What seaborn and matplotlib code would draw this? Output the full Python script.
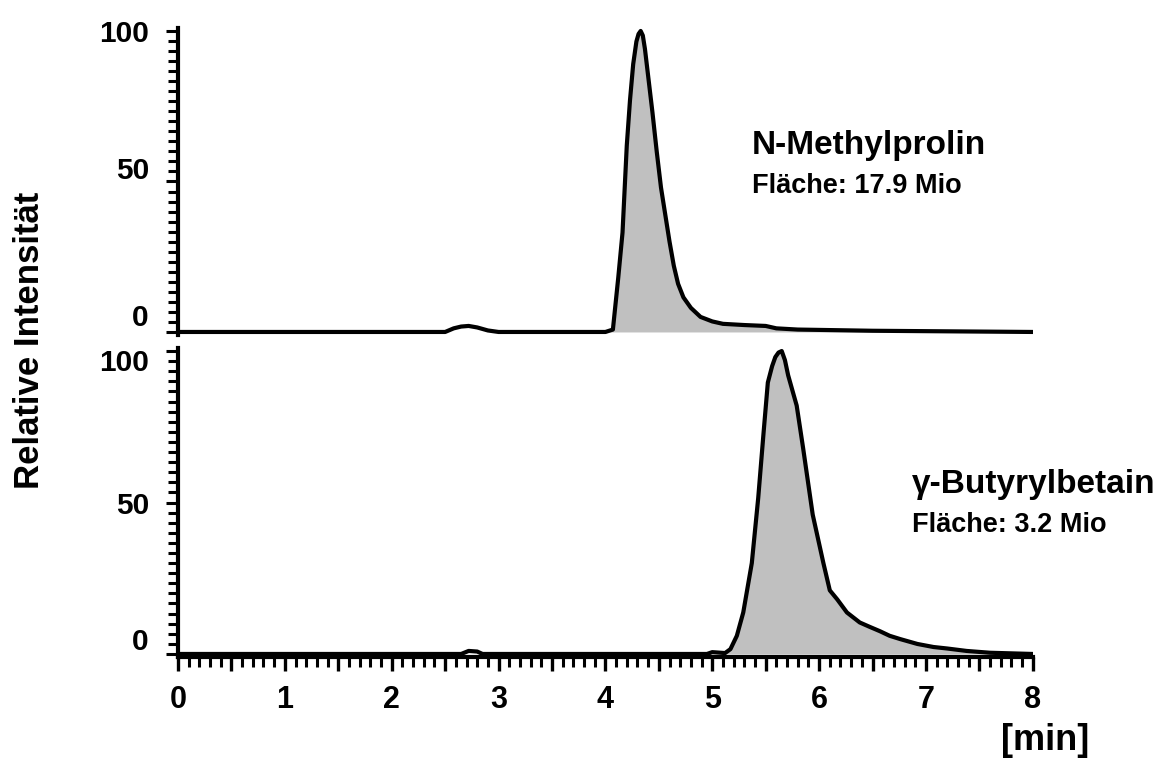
import numpy as np
import pandas as pd
import matplotlib
matplotlib.use("Agg")
import matplotlib.pyplot as plt
import seaborn as sns
from matplotlib.ticker import MultipleLocator, FuncFormatter
from matplotlib.transforms import ScaledTranslation

# retention time [min] and relative intensity
top_t = [0, 2.5, 2.58, 2.65, 2.72, 2.8, 2.9, 3.0, 4.0, 4.07, 4.12, 4.16, 4.2, 4.23,
         4.26, 4.29, 4.31, 4.33, 4.35, 4.37, 4.39, 4.44, 4.48, 4.52, 4.56, 4.6, 4.64,
         4.68, 4.73, 4.8, 4.89, 5.0, 5.1, 5.3, 5.5, 5.6, 5.8, 6.5, 8.0]
top_v = [0, 0, 1.2, 1.8, 2.0, 1.5, 0.5, 0, 0, 0.8, 18, 33, 62, 77,
         89, 96.5, 99, 100, 98.5, 94, 88, 73, 60, 48, 39, 30, 22,
         16, 11.5, 8, 5, 3.5, 2.7, 2.3, 2.0, 1.2, 0.8, 0.4, 0]

bot_t = [0, 2.65, 2.72, 2.8, 2.85, 4.95, 5.0, 5.12, 5.17, 5.23, 5.29, 5.37, 5.43, 5.48,
         5.52, 5.56, 5.59, 5.62, 5.65, 5.68, 5.71, 5.75, 5.79, 5.85, 5.94, 6.04, 6.10,
         6.17, 6.26, 6.38, 6.47, 6.57, 6.66, 6.76, 6.92, 7.07, 7.2, 7.38, 7.6, 8.0]
bot_v = [0, 0, 1.0, 0.8, 0, 0, 0.6, 0.3, 1.6, 6, 13.7, 30, 51.5, 73,
         89.6, 95, 98, 99.5, 100, 97, 92, 87, 82, 68, 46, 30, 21,
         18, 13.7, 10.4, 9, 7.5, 6, 4.9, 3.3, 2.3, 1.8, 1.0, 0.4, 0]

peak_start = [4.0, 5.05]
names = ["N-Methylprolin", "γ-Butyrylbetain"]
areas = ["Fläche: 17.9 Mio", "Fläche: 3.2 Mio"]
label_pos = [(5.37, 62), (6.87, 56)]
yticks = [0, 50, 100]
# small vertical shifts (px) of the y tick labels, as in the original figure
ylabel_shift = [{"0": 17, "50": 13, "100": 0}, {"0": 15, "50": 0, "100": -9}]
xticks_major = np.arange(0, 8.01, 0.5)

sns.set_theme(style="ticks")
plt.rcParams['font.family'] = ['Liberation Sans', 'DejaVu Sans']
plt.rcParams['font.weight'] = 'bold'
plt.rcParams['text.color'] = 'black'
plt.rcParams['xtick.color'] = 'black'
plt.rcParams['ytick.color'] = 'black'
plt.rcParams['axes.edgecolor'] = 'black'

fig = plt.figure(figsize=(11.75, 7.62), dpi=100)
ax_top = fig.add_axes([0.1515, 0.5604, 0.7275, 0.4029])
ax_bot = fig.add_axes([0.1515, 0.1378, 0.7275, 0.4055])

for ax, t, v, start, name, area, (lx, ly), shifts in zip(
        [ax_top, ax_bot], [top_t, bot_t], [top_v, bot_v], peak_start, names, areas,
        label_pos, ylabel_shift):
    df = pd.DataFrame({"t": t, "v": v})
    pk = df[df["t"] >= start]
    ax.fill_between(pk["t"], 0, pk["v"], color="#c0c0c0", lw=0)
    sns.lineplot(data=df, x="t", y="v", ax=ax, color="black", lw=3, sort=False)
    ax.set_xlim(0, 8)
    ax.set_ylim(-1, 101)
    ax.set_xlabel("")
    ax.set_ylabel("")
    sns.despine(ax=ax)
    ax.spines["left"].set_linewidth(3)
    ax.spines["bottom"].set_linewidth(3)
    ax.set_yticks(yticks)
    ax.yaxis.set_minor_locator(MultipleLocator(10 / 3))
    ax.tick_params(axis="y", which="major", length=9, width=2.2, pad=12, labelsize=21.5,
                   colors="black")
    ax.tick_params(axis="y", which="minor", length=7, width=2.2, colors="black")
    for lab in ax.get_yticklabels():
        lab.set_fontweight("bold")
        dy = shifts.get(lab.get_text(), 0)
        lab.set_transform(lab.get_transform() + ScaledTranslation(0, dy / 100, fig.dpi_scale_trans))
    ax.text(lx, ly, name, fontsize=24, fontweight="bold", ha="left", va="center")
    ax.text(lx, ly - 13.5, area, fontsize=19.5, fontweight="bold", ha="left", va="center")
    ax.patch.set_alpha(0)

ax_top.spines["bottom"].set_visible(False)
ax_top.tick_params(axis="x", which="both", bottom=False, labelbottom=False)

ax_bot.set_xticks(xticks_major)
ax_bot.xaxis.set_major_formatter(FuncFormatter(lambda x, p: f"{int(x)}" if x == int(x) else ""))
ax_bot.xaxis.set_minor_locator(MultipleLocator(0.1))
ax_bot.tick_params(axis="x", which="major", length=10, width=2.4, pad=10, labelsize=22,
                   colors="black")
ax_bot.tick_params(axis="x", which="minor", length=7, width=2.2, colors="black")
for lab in ax_bot.get_xticklabels():
    lab.set_fontweight("bold")

fig.text(30 / 1175, 1 - 340 / 762, "Relative Intensität", rotation=90, fontsize=25,
         fontweight="bold", ha="center", va="center")
fig.text(1045 / 1175, 1 - 740 / 762, "[min]", fontsize=26, fontweight="bold",
         ha="center", va="center")

fig.savefig("out.png", dpi=100)
